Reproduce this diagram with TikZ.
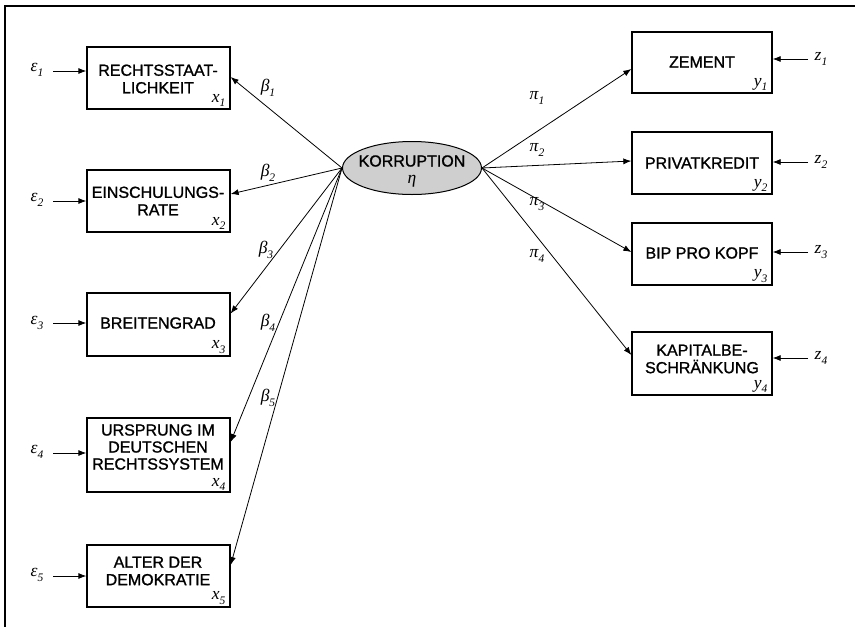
\documentclass[tikz,border=0pt]{standalone}
\usepackage{fontspec}
\setmainfont{Liberation Sans}
\newfontfamily\boxfont{Liberation Sans}[FakeBold=1.2]
\newfontfamily\labfont{Liberation Serif}
\newcommand{\symlab}[2]{{\labfont\itshape #1\raisebox{-0.28em}{\fontsize{11.5}{11.5}\selectfont #2}}}
\usetikzlibrary{arrows.meta,shapes.geometric,calc}
\begin{document}
\begin{tikzpicture}[x=1pt,y=-1pt,
  every node/.style={inner sep=0pt},
  boxL/.style={draw,line width=1.3pt,minimum width=143pt},
  boxR/.style={draw,line width=1.3pt,minimum width=140pt},
  txt/.style={font=\boxfont\fontsize{16}{17.5}\selectfont,align=center},
  lab/.style={font=\fontsize{17.5}{18}\selectfont},
  sub/.style={font=\fontsize{17.5}{18}\selectfont,anchor=south east},
  arr/.style={-{Latex[length=8pt,width=6pt]},line width=0.8pt}]
\useasboundingbox (0,0) rectangle (855,627);
\draw[line width=1.8pt] (855,6) -- (5,6) -- (5,627);

% left boxes
\node[boxL,minimum height=62pt] (x1) at (158.5,78) {};
\node[boxL,minimum height=62pt] (x2) at (158.5,201) {};
\node[boxL,minimum height=63pt] (x3) at (158.5,324.5) {};
\node[boxL,minimum height=74pt] (x4) at (158.5,455) {};
\node[boxL,minimum height=62pt] (x5) at (158.5,576) {};
\node[txt] (t1) at (158,79) {RECHTSSTAAT-\\LICHKEIT};
\node[txt] (t2) at (158,201) {EINSCHULUNGS-\\RATE};
\node[txt] (t3) at (158,323) {BREITENGRAD};
\node[txt,font=\boxfont\fontsize{16}{17}\selectfont] (t4) at (158,447) {URSPRUNG IM\\DEUTSCHEN\\RECHTSSYSTEM};
\node[txt] (t5) at (158,571) {ALTER DER\\DEMOKRATIE};
\foreach \i in {1,2,3,5}{
  \node[sub] (sx\i) at ($(x\i.south east)+(-5,-2.5)$) {\symlab{x}{\i}};
}
\node[sub] (sx4) at ($(x4.south east)+(-5,-1.5)$) {\symlab{x}{4}};

% right boxes
\node[boxR,minimum height=61pt] (y1) at (702,62.5) {};
\node[boxR,minimum height=62pt] (y2) at (702,163) {};
\node[boxR,minimum height=62pt] (y3) at (702,254) {};
\node[boxR,minimum height=63pt] (y4) at (702,363.5) {};
\node[txt] (u1) at (702,62) {ZEMENT};
\node[txt] (u2) at (702,163) {PRIVATKREDIT};
\node[txt] (u3) at (702,253) {BIP PRO KOPF};
\node[txt] (u4) at (702,359) {KAPITALBE-\\SCHRÄNKUNG};
\foreach \i in {1,...,4}{
  \node[sub] (sy\i) at ($(y\i.south east)+(-5,-2.5)$) {\symlab{y}{\i}};
}

% central ellipse
\node[ellipse,draw,fill=gray!38,line width=1pt,minimum width=139pt,minimum height=53pt] (K) at (412,168) {};
\node[txt] (kt) at (412,161) {KORRUPTION};
\node[lab] (eta) at (412,182) {\symlab{η}{}};

% error terms left
\node[lab] (e1) at (37,70) {\symlab{ε}{1}};
\node[lab] (e2) at (37,200) {\symlab{ε}{2}};
\node[lab] (e3) at (37,323) {\symlab{ε}{3}};
\node[lab] (e4) at (37,452) {\symlab{ε}{4}};
\node[lab] (e5) at (37,575) {\symlab{ε}{5}};
\coordinate (a1) at (53,71);
\coordinate (a2) at (53,201);
\coordinate (a3) at (53,323);
\coordinate (a4) at (53,453);
\coordinate (a5) at (53,576);
\foreach \i in {1,...,5}{
  \draw[arr] (a\i) -- (x\i.west |- a\i);
}

% error terms right
\node[lab] (z1) at (821,59) {\symlab{z}{1}};
\node[lab] (z2) at (821,162) {\symlab{z}{2}};
\node[lab] (z3) at (821,252) {\symlab{z}{3}};
\node[lab] (z4) at (821,358) {\symlab{z}{4}};
\coordinate (b1) at (808,59);
\coordinate (b2) at (808,162);
\coordinate (b3) at (808,252);
\coordinate (b4) at (808,358);
\foreach \i in {1,...,4}{
  \draw[arr] (b\i) -- (y\i.east |- b\i);
}

% paths from Korruption
\draw[arr] (K.west) -- ([yshift=1pt]x1.east);
\draw[arr] (K.west) -- ([yshift=7pt]x2.east);
\draw[arr] (K.west) -- ([yshift=11pt]x3.east);
\draw[arr] (K.west) -- ([yshift=13pt]x4.east);
\draw[arr] (K.west) -- ([yshift=11pt]x5.east);
\draw[arr] (K.east) -- ([yshift=-6.5pt]y1.west);
\draw[arr] (K.east) -- ([yshift=2pt]y2.west);
\draw[arr] (K.east) -- ([yshift=2pt]y3.west);
\draw[arr] (K.east) -- ([yshift=8.5pt]y4.west);

% coefficient labels
\node[lab] (b1l) at (268,88) {\symlab{β}{1}};
\node[lab] (b2l) at (268,173) {\symlab{β}{2}};
\node[lab] (b3l) at (266,250) {\symlab{β}{3}};
\node[lab] (b4l) at (268,323) {\symlab{β}{4}};
\node[lab] (b5l) at (268,398) {\symlab{β}{5}};
\node[lab] (p1l) at (537,98) {\symlab{π}{1}};
\node[lab] (p2l) at (537,150) {\symlab{π}{2}};
\node[lab] (p3l) at (537,204) {\symlab{π}{3}};
\node[lab] (p4l) at (537,256) {\symlab{π}{4}};
\end{tikzpicture}
\end{document}
